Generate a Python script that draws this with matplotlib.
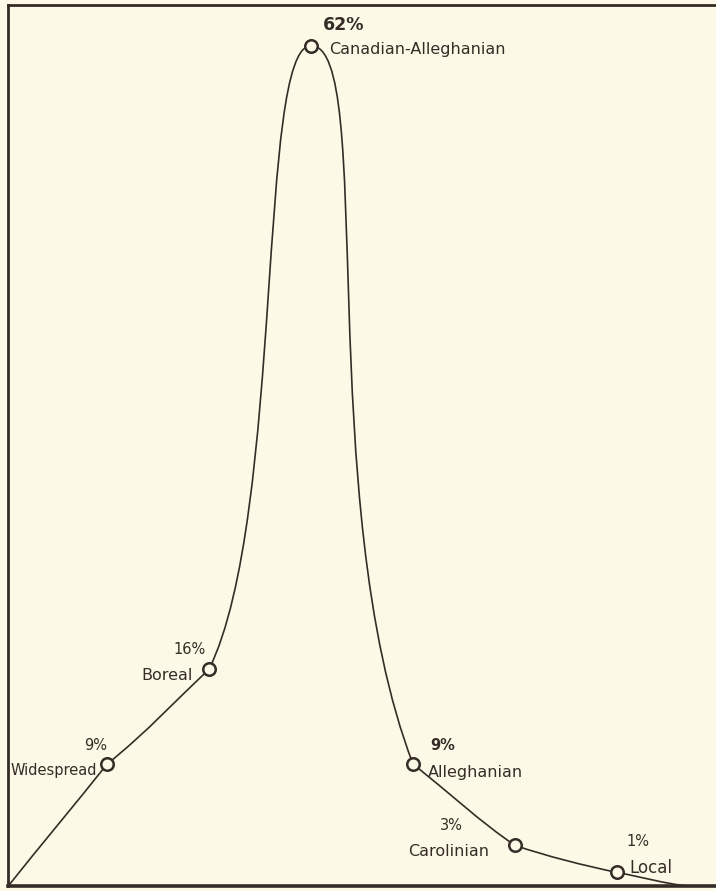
import numpy as np
import matplotlib.pyplot as plt
from matplotlib.path import Path
from matplotlib.patches import PathPatch

# data
zones = ['Widespread', 'Boreal', 'Canadian-Alleghanian', 'Alleghanian', 'Carolinian', 'Local']
percent = [9, 16, 62, 9, 3, 1]
position = [1, 2, 3, 4, 5, 6]
curve_start = (0.03, 0.0)
curve_end = (6.7, 0.0)

paper = '#fcfae6'
ink = '#352c27'

# bezier handles in pixels for each piece of the hand drawn curve (out of start, into end)
handles = [
    ((31, 39), (-31, -39)),
    ((40, 32), (-30, -28)),
    ((75, 153), (-54, 0)),
    ((65, 0), (-100, 260)),
    ((34, -27), (-33, 22)),
    ((32, -11), (-33, 7)),
    ((23, -4), (-23, 2)),
]

# label offsets in pixels from the marker: (pct dx, pct dy, name dx, name dy, name align)
label_pos = [
    (-12, 19, -10, -6, 'right'),
    (-20, 20, -16, -6, 'right'),
    (33, 21, 18, -4, 'left'),
    (30, 19, 15, -8, 'left'),
    (-64, 20, -26, -6, 'right'),
    (21, 31, 12, 4, 'left'),
]
pct_weight = ['normal', 'normal', 'bold', 'bold', 'normal', 'normal']
pct_size = [10.5, 10.5, 12.5, 10.5, 10.5, 10.5]
name_size = [10.5, 11.5, 11.5, 11.5, 11.5, 12]

fig = plt.figure(figsize=(7.16, 8.91), dpi=100, facecolor=paper)
ax = fig.add_axes([8 / 716, 5 / 891, 716 / 716, 881 / 891])
ax.set_facecolor(paper)
ax.set_xlim(0.0275, 7.05)
ax.set_ylim(0, 65)
ax.set_xticks([])
ax.set_yticks([])
ax.spines['right'].set_visible(False)
for s in ['left', 'top']:
    ax.spines[s].set_linewidth(2.0)
    ax.spines[s].set_color(ink)
ax.spines['bottom'].set_linewidth(2.6)
ax.spines['bottom'].set_color(ink)

# the smooth curve through the points
anchors = [curve_start] + list(zip(position, percent)) + [curve_end]
disp = ax.transData.transform(np.array(anchors, dtype=float))
inv = ax.transData.inverted()
verts = [disp[0]]
codes = [Path.MOVETO]
for i, (h_out, h_in) in enumerate(handles):
    p0, p3 = disp[i], disp[i + 1]
    verts += [p0 + np.array(h_out), p3 + np.array(h_in), p3]
    codes += [Path.CURVE4] * 3
verts = inv.transform(np.array(verts))
ax.add_patch(PathPatch(Path(verts, codes), fill=False, edgecolor=ink, lw=1.2, zorder=2))

ax.plot(position, percent, 'o', ms=9, mfc=paper, mec=ink, mew=1.8, ls='none', zorder=3)

for i in range(len(zones)):
    pdx, pdy, ndx, ndy, al = label_pos[i]
    ax.annotate(f'{percent[i]}%', (position[i], percent[i]), xytext=(pdx, pdy),
                textcoords='offset pixels', ha='center', va='center',
                fontsize=pct_size[i], fontweight=pct_weight[i], color=ink)
    ax.annotate(zones[i], (position[i], percent[i]), xytext=(ndx, ndy),
                textcoords='offset pixels', ha=al, va='center',
                fontsize=name_size[i], color=ink)

fig.savefig('out.png', dpi=100, facecolor=paper)
